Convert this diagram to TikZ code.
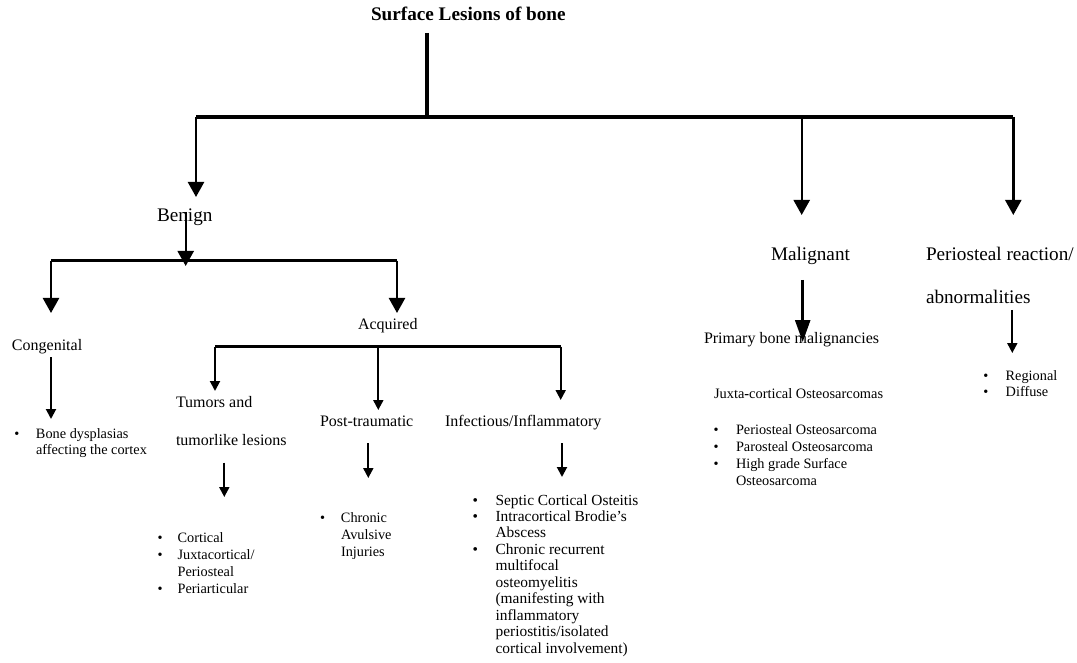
\documentclass[tikz,border=0pt]{standalone}
\usepackage{fontspec}
\setmainfont{Liberation Serif}
\usetikzlibrary{arrows.meta}
\begin{document}
\begin{tikzpicture}[x=1pt,y=-1pt,
  every node/.style={inner sep=0pt, outer sep=0pt},
  bigtxt/.style={font=\fontsize{19.2}{22}\selectfont, anchor=base west},
  midtxt/.style={font=\fontsize{16}{18}\selectfont, anchor=base west},
  smltxt/.style={font=\fontsize{14.4}{16.5}\selectfont, anchor=base west},
  blist/.style={font=\fontsize{14.3}{#1}\selectfont, anchor=north west},
  blistb/.style={font=\fontsize{15.4}{#1}\selectfont, anchor=north west},
  bar/.style={line width=3.5pt},
  bigarr/.style={line width=2.4pt, -{Triangle[width=16pt,length=15pt]}},
  malarr/.style={line width=2.6pt, -{Triangle[width=15pt,length=22pt]}},
  smallarr/.style={line width=2pt, -{Triangle[width=10pt,length=10pt]}},
]
\useasboundingbox (0,0) rectangle (1077,663);

% ---- texts ----
\node[font=\bfseries\fontsize{19.2}{22}\selectfont, anchor=base west] (title) at (371,21) {Surface Lesions of bone};
\node[bigtxt] (benign) at (157,222) {Benign};
\node[bigtxt] (malignant) at (771,261) {Malignant};
\node[bigtxt] (perio1) at (926,261) {Periosteal reaction/};
\node[bigtxt] (perio2) at (926,304) {abnormalities};
\node[midtxt] (congenital) at (12,350) {Congenital};
\node[midtxt] (acquired) at (358,330) {Acquired};
\node[midtxt] (tumors1) at (176,407) {Tumors and};
\node[midtxt] (tumors2) at (176,445) {tumorlike lesions};
\node[midtxt] (post) at (320,426) {Post-traumatic};
\node[midtxt] (infect) at (445,426) {Infectious/Inflammatory};
\node[midtxt] (primary) at (704,343) {Primary bone malignancies};
\node[smltxt] (juxta) at (714,398) {Juxta\textbf{-}cortical Osteosarcomas};

% ---- bullet lists ----
\node[blist=16.5] (dysp) at (14.3,426.5) {\begin{tabular}{@{}p{21.7pt}@{}l@{}}
\textbullet & Bone dysplasias\\ & affecting the cortex\end{tabular}};
\node[blist=16.8] (tumlist) at (157.6,531.2) {\begin{tabular}{@{}p{20pt}@{}l@{}}
\textbullet & Cortical\\ \textbullet & Juxtacortical/\\ & Periosteal\\ \textbullet & Periarticular\end{tabular}};
\node[blist=16.8] (postlist) at (320,511.2) {\begin{tabular}{@{}p{21pt}@{}l@{}}
\textbullet & Chronic\\ & Avulsive\\ & Injuries\end{tabular}};
\node[blistb=16.45] (inflist) at (472.6,493.5) {\begin{tabular}{@{}p{23pt}@{}l@{}}
\textbullet & Septic Cortical Osteitis\\ \textbullet & Intracortical Brodie’s\\ & Abscess\\
\textbullet & Chronic recurrent\\ & multifocal\\ & osteomyelitis\\ & (manifesting with\\
 & inflammatory\\ & periostitis/isolated\\ & cortical involvement)\end{tabular}};
\node[blist=17] (juxlist) at (713.6,422.1) {\begin{tabular}{@{}p{22.4pt}@{}l@{}}
\textbullet & Periosteal Osteosarcoma\\ \textbullet & Parosteal Osteosarcoma\\
\textbullet & High grade Surface\\ & Osteosarcoma\end{tabular}};
\node[blist=16] (perlist) at (983.3,368.8) {\begin{tabular}{@{}p{22.4pt}@{}l@{}}
\textbullet & Regional\\ \textbullet & Diffuse\end{tabular}};

% ---- junction coordinates ----
\coordinate (t0) at (427,33);
\coordinate (t1) at (427,117);
\coordinate (bL) at (196,117);
\coordinate (bM) at (801.7,117);
\coordinate (bR) at (1013.3,117);
\coordinate (tipBen) at (196,197);
\coordinate (tipMal) at (801.7,215);
\coordinate (tipPer) at (1013.3,215);

\coordinate (benS) at (185.7,212);
\coordinate (benT) at (185.7,266);
\coordinate (cL) at (51,260.7);
\coordinate (cR) at (397,260.7);
\coordinate (tipCon) at (51,313);
\coordinate (tipAcq) at (397,313);

\coordinate (aL) at (215,346.7);
\coordinate (aM) at (378.3,346.7);
\coordinate (aR) at (560.7,346.7);
\coordinate (tipTum) at (215,391);
\coordinate (tipPost) at (378.3,410);
\coordinate (tipInf) at (560.7,400);

\coordinate (conS) at (51,357);   \coordinate (conT) at (51,419);
\coordinate (tumS) at (224.3,462.7); \coordinate (tumT) at (224.3,497);
\coordinate (posS) at (368.3,443); \coordinate (posT) at (368.3,478);
\coordinate (infS) at (562,443);   \coordinate (infT) at (562,477);
\coordinate (malS) at (802.7,280); \coordinate (malT) at (802.7,342);
\coordinate (perS) at (1012.3,310); \coordinate (perT) at (1012.3,353);

% ---- connectors ----
\draw[line width=4pt] (t0) -- (t1);
\draw[bar] (bL) -- (bR);
\draw[bigarr] (bL) -- (tipBen);
\draw[bigarr] (bM) -- (tipMal);
\draw[bigarr] (bR) -- (tipPer);

\draw[bar] (cL) -- (cR);
\draw[bigarr] (benS) -- (benT);
\draw[bigarr] (cL) -- (tipCon);
\draw[bigarr] (cR) -- (tipAcq);

\draw[line width=2.5pt] (aL) -- (aR);
\draw[smallarr] (aL) -- (tipTum);
\draw[smallarr] (aM) -- (tipPost);
\draw[smallarr] (aR) -- (tipInf);

\draw[smallarr] (conS) -- (conT);
\draw[smallarr] (tumS) -- (tumT);
\draw[smallarr] (posS) -- (posT);
\draw[smallarr] (infS) -- (infT);
\draw[malarr] (malS) -- (malT);
\draw[smallarr] (perS) -- (perT);
\end{tikzpicture}
\end{document}
